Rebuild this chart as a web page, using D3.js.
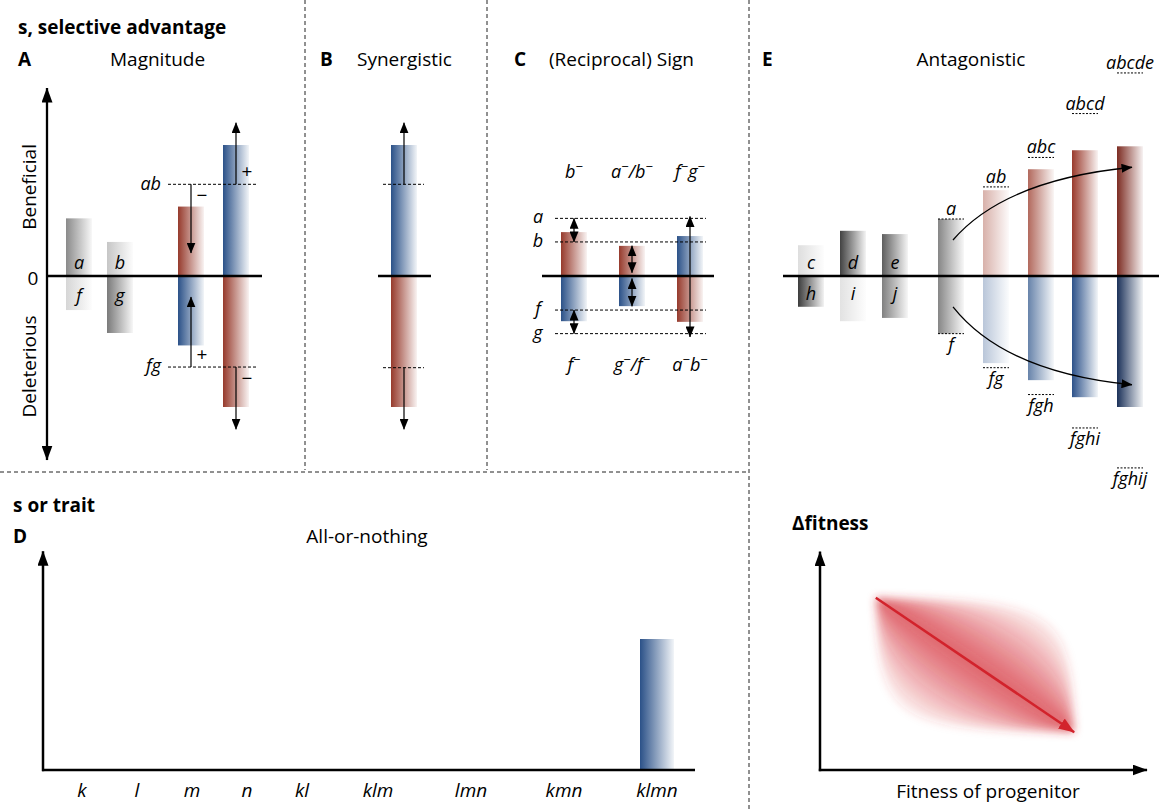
<!DOCTYPE html>
<html>
<head>
<meta charset="utf-8">
<script src="https://cdn.jsdelivr.net/npm/d3@7"></script>
<style>
  body { margin: 0; background: #fff; }
  svg { display: block; font-family: 'Open Sans', sans-serif; }
  .lab { font-style: italic; font-size: 18px; }
  .cat { font-style: italic; font-size: 19px; }
  .title { font-size: 19px; }
  .head { font-size: 19px; font-weight: 700; }
</style>
</head>
<body>
<svg id="chart" width="1159" height="811"></svg>
<script>
// ---------- data (s in arbitrary units, 0 = neutral) ----------
// A: magnitude epistasis
const magSingles = [
  { up: 'a', sUp: 4.4, down: 'f', sDown: -2.6 },
  { up: 'b', sUp: 2.6, down: 'g', sDown: -4.35 },
];
const magExpected = { up: 7.0, down: -6.95, upLabel: 'ab', downLabel: 'fg' };
const magDoubles = [
  { key: 'antag', sUp: 5.3, sDown: -5.3, tipUp: 1.75, tipDown: -1.6 },
  { key: 'syn', sUp: 10, sDown: -10, tipUp: 11.7, tipDown: -11.7 },
];

// B: synergistic
const synBar = { sUp: 10, sDown: -10, expUp: 7, expDown: -7, tipUp: 11.7, tipDown: -11.7 };

// C: (reciprocal) sign epistasis
const signLevels = [
  { label: 'a', s: 4.4 }, { label: 'b', s: 2.6 },
  { label: 'f', s: -2.6 }, { label: 'g', s: -4.4 },
];
const signBars = [
  { top: 'b⁻', bottom: 'f⁻', sUp: 3.35, sDown: -3.45, upKind: 'worse', downKind: 'better' },
  { top: 'a⁻/b⁻', bottom: 'g⁻/f⁻', sUp: 2.3, sDown: -2.3, upKind: 'worse', downKind: 'better' },
  { top: 'f⁻g⁻', bottom: 'a⁻b⁻', sUp: 3.05, sDown: -3.5, upKind: 'better', downKind: 'worse' },
];
const signArrows = [
  { bar: 0, from: 4.4, to: 2.6 }, { bar: 0, from: -2.6, to: -4.4 },
  { bar: 1, from: 2.3, to: 0.25 }, { bar: 1, from: -0.2, to: -2.3 },
  { bar: 2, from: 4.55, to: -4.65 },
];

// E: antagonistic
const antagSingles = [
  { up: 'c', sUp: 2.35, down: 'h', sDown: -2.35 },
  { up: 'd', sUp: 3.45, down: 'i', sDown: -3.45 },
  { up: 'e', sUp: 3.2, down: 'j', sDown: -3.2 },
];
const antagSeries = [
  { up: 'a', sUp: 4.35, expUp: 4.35, down: 'f', sDown: -4.4, expDown: -4.4 },
  { up: 'ab', sUp: 6.55, expUp: 6.8, down: 'fg', sDown: -6.65, expDown: -7.0 },
  { up: 'abc', sUp: 8.15, expUp: 9.05, down: 'fgh', sDown: -7.95, expDown: -9.05 },
  { up: 'abcd', sUp: 9.6, expUp: 12.4, down: 'fghi', sDown: -9.25, expDown: -11.6 },
  { up: 'abcde', sUp: 9.9, expUp: 15.5, down: 'fghij', sDown: -10, expDown: -14.65 },
];
const antagTrends = [
  { from: 'a', to: 'abcde', sFrom: 2.75, sBend: 7.35, sTo: 8.3 },
  { from: 'a', to: 'abcde', sFrom: -2.35, sBend: -7.35, sTo: -8.3 },
];

// D: all-or-nothing
const traitCats = ['k', 'l', 'm', 'n', 'kl', 'klm', 'lmn', 'kmn', 'klmn'];
const traitValues = [0, 0, 0, 0, 0, 0, 0, 0, 1];

// Δfitness vs fitness of progenitor
const progenitorFitness = [0.18, 0.82];
const deltaFitness = [0.82, 0.18];

// ---------- styles ----------
const RED = '#963a2c', BLUE = '#2b5188';
const greyA = { a: '#8a8a8a', f: '#d6d6d6', b: '#c6c6c6', g: '#7a7a7a' };
const greyE = { c: '#dedede', h: '#3c3c3c', d: '#424242', i: '#e2e2e2', e: '#5e5e5e', j: '#808080', a: '#868686', f: '#868686' };
const redE = { a: '#868686', ab: '#d8b1aa', abc: '#b2695d', abcd: '#9a3a2c', abcde: '#7c2c22' };
const blueE = { f: '#868686', fg: '#b9c6d9', fgh: '#6783aa', fghi: '#2d528a', fghij: '#1b3159' };
const kindColor = { better: BLUE, worse: RED };
const BW = 26;

// ---------- setup ----------
const svg = d3.select('#chart');
const defs = svg.append('defs');

const gradIds = new Map();
function grad(color) {
  if (!gradIds.has(color)) {
    const id = 'grad' + gradIds.size;
    gradIds.set(color, id);
    const lg = defs.append('linearGradient').attr('id', id);
    lg.append('stop').attr('offset', '0%').attr('stop-color', color);
    lg.append('stop').attr('offset', '100%').attr('stop-color', d3.interpolateRgb(color, '#fff')(0.94));
  }
  return `url(#${gradIds.get(color)})`;
}

function marker(id, len, half, color) {
  defs.append('marker')
    .attr('id', id)
    .attr('viewBox', `0 ${-half} ${len} ${2 * half}`)
    .attr('refX', len - 0.5).attr('refY', 0)
    .attr('markerWidth', len).attr('markerHeight', 2 * half)
    .attr('markerUnits', 'userSpaceOnUse')
    .attr('orient', 'auto-start-reverse')
    .append('path')
    .attr('d', `M0,${-half}L${len},0L0,${half}Z`)
    .attr('fill', color);
}
marker('axisHead', 15, 5.5, '#000');
marker('head', 11, 4.5, '#000');
marker('redHead', 16, 6, '#d2232c');

const soft = defs.append('filter').attr('id', 'soft')
  .attr('x', '-30%').attr('y', '-30%').attr('width', '160%').attr('height', '160%');
soft.append('feGaussianBlur').attr('stdDeviation', 4);

const yS = d3.scaleLinear().domain([-10, 10]).range([407, 145]);

function bar(g, xc, s0, s1, color, w = BW) {
  g.append('rect')
    .attr('x', xc - w / 2)
    .attr('y', Math.min(yS(s0), yS(s1)))
    .attr('width', w)
    .attr('height', Math.abs(yS(s0) - yS(s1)))
    .attr('fill', grad(color));
}
function hline(g, x1, x2, y, width, dash) {
  g.append('line').attr('x1', x1).attr('x2', x2).attr('y1', y).attr('y2', y)
    .attr('stroke', '#000').attr('stroke-width', width)
    .attr('stroke-dasharray', dash || null);
}
function arrow(g, x1, y1, x2, y2, head, width, both) {
  g.append('line').attr('x1', x1).attr('y1', y1).attr('x2', x2).attr('y2', y2)
    .attr('stroke', '#000').attr('stroke-width', width)
    .attr('marker-end', `url(#${head})`)
    .attr('marker-start', both ? `url(#${head})` : null);
}
function text(g, x, y, str, cls, anchor = 'middle') {
  return g.append('text').attr('x', x).attr('y', y).attr('class', cls)
    .attr('text-anchor', anchor).text(str);
}
// labels like "a⁻/b⁻": the minus is drawn as a raised small glyph
function supText(g, x, y, str) {
  const t = g.append('text').attr('x', x).attr('y', y).attr('class', 'lab').attr('text-anchor', 'middle');
  let raised = false;
  str.split(/(⁻)/).filter(Boolean).forEach(part => {
    if (part === '⁻') {
      t.append('tspan').attr('dy', -7).attr('font-size', 13).attr('font-style', 'normal').text('−');
      raised = true;
    } else {
      t.append('tspan').attr('dy', raised ? 7 : 0).text(part);
      raised = false;
    }
  });
}

// ---------- dividers ----------
const div = svg.append('g').attr('stroke', '#222').attr('stroke-width', 1).attr('stroke-dasharray', '4,3');
[[305, 0, 305, 470], [487, 0, 487, 470], [749, 0, 749, 811], [0, 472, 749, 472]].forEach(d =>
  div.append('line').attr('x1', d[0]).attr('y1', d[1]).attr('x2', d[2]).attr('y2', d[3]));

// ---------- panel A ----------
const gA = svg.append('g');
text(gA, 18, 34, 's, selective advantage', 'head', 'start');
text(gA, 18, 66, 'A', 'head', 'start');
text(gA, 110, 66, 'Magnitude', 'title', 'start');
arrow(gA, 47, yS(-14.05), 47, yS(14.35), 'axisHead', 2.3, true);
text(gA, 33, 285, '0', 'title');
gA.append('text').attr('class', 'title').attr('text-anchor', 'middle')
  .attr('transform', `translate(36,${yS(6.8)}) rotate(-90)`).text('Beneficial');
gA.append('text').attr('class', 'title').attr('text-anchor', 'middle')
  .attr('transform', `translate(36,${yS(-6.9)}) rotate(-90)`).text('Deleterious');

const xA = d3.scaleOrdinal().domain(['a', 'b', 'antag', 'syn']).range([79, 120, 191, 236]);
magSingles.forEach(d => {
  bar(gA, xA(d.up), 0, d.sUp, greyA[d.up]);
  bar(gA, xA(d.up), 0, d.sDown, greyA[d.down]);
});
magDoubles.forEach(d => {
  const x = xA(d.key);
  bar(gA, x, 0, d.sUp, d.sUp > magExpected.up ? BLUE : RED);
  bar(gA, x, 0, d.sDown, d.sDown > magExpected.down ? BLUE : RED);
});
hline(gA, 168, 257, yS(magExpected.up), 1, '3,2');
hline(gA, 168, 257, yS(magExpected.down), 1, '3,2');
hline(gA, 47, 262, yS(0), 2.5);
magSingles.forEach(d => {
  text(gA, xA(d.up), yS(0) - 7, d.up, 'lab');
  text(gA, xA(d.up), yS(0) + 26, d.down, 'lab');
});
magDoubles.forEach(d => {
  const x = xA(d.key);
  [[magExpected.up, d.tipUp], [magExpected.down, d.tipDown]].forEach(([from, to]) => {
    arrow(gA, x, yS(from), x, yS(to), 'head', 1.2);
    const dir = to > from ? -1 : 1;
    text(gA, x + 11, yS(from) + dir * 12 + 6, to > from ? '+' : '−', 'title');
  });
});
text(gA, 161, yS(magExpected.up) + 6, magExpected.upLabel, 'lab', 'end');
text(gA, 161, yS(magExpected.down) + 5, magExpected.downLabel, 'lab', 'end');

// ---------- panel B ----------
const gB = svg.append('g');
text(gB, 320, 66, 'B', 'head', 'start');
text(gB, 357, 66, 'Synergistic', 'title', 'start');
const xB = 404;
bar(gB, xB, 0, synBar.sUp, synBar.sUp > synBar.expUp ? BLUE : RED);
bar(gB, xB, 0, synBar.sDown, synBar.sDown > synBar.expDown ? BLUE : RED);
hline(gB, 378, 431, yS(0), 2.5);
hline(gB, 383, 424, yS(synBar.expUp), 1, '3,2');
hline(gB, 383, 424, yS(synBar.expDown), 1, '3,2');
arrow(gB, xB, yS(synBar.expUp), xB, yS(synBar.tipUp), 'head', 1.2);
arrow(gB, xB, yS(synBar.expDown), xB, yS(synBar.tipDown), 'head', 1.2);

// ---------- panel C ----------
const gC = svg.append('g');
text(gC, 514, 66, 'C', 'head', 'start');
text(gC, 549, 66, '(Reciprocal) Sign', 'title', 'start');
const xC = d3.scalePoint().domain(d3.range(signBars.length)).range([574, 690]);
signBars.forEach((d, i) => {
  bar(gC, xC(i), 0, d.sUp, kindColor[d.upKind]);
  bar(gC, xC(i), 0, d.sDown, kindColor[d.downKind]);
  supText(gC, xC(i), 178, d.top);
  supText(gC, xC(i), 371, d.bottom);
});
signLevels.forEach(d => {
  hline(gC, 555, 706, yS(d.s), 1, '3,2');
  text(gC, 538, yS(d.s) + 5, d.label, 'lab');
});
hline(gC, 542, 714, yS(0), 2.5);
signArrows.forEach(d => arrow(gC, xC(d.bar), yS(d.from), xC(d.bar), yS(d.to), 'head', 1.2, true));

// ---------- panel E ----------
const gE = svg.append('g');
text(gE, 762, 66, 'E', 'head', 'start');
text(gE, 971, 66, 'Antagonistic', 'title');
const xE = d3.scaleOrdinal()
  .domain([...antagSingles.map(d => d.up), ...antagSeries.map(d => d.up)])
  .range([811, 853, 895, 951, 996, 1041, 1085, 1130]);
antagSingles.forEach(d => {
  bar(gE, xE(d.up), 0, d.sUp, greyE[d.up]);
  bar(gE, xE(d.up), 0, d.sDown, greyE[d.down]);
});
antagSeries.forEach(d => {
  const x = xE(d.up);
  bar(gE, x, 0, d.sUp, redE[d.up]);
  bar(gE, x, 0, d.sDown, blueE[d.down]);
  hline(gE, x - 13, x + 13, yS(d.expUp), 1, '2,1.5');
  hline(gE, x - 13, x + 13, yS(d.expDown), 1, '2,1.5');
  text(gE, x, yS(d.expUp) - 4, d.up, 'lab');
  text(gE, x, yS(d.expDown) + 17, d.down, 'lab');
});
hline(gE, 783, 1159, yS(0), 2.5);
antagSingles.forEach(d => {
  text(gE, xE(d.up), yS(0) - 7, d.up, 'lab');
  text(gE, xE(d.up), yS(0) + 24, d.down, 'lab');
});
antagTrends.forEach(d => {
  const x0 = xE(d.from) + 2, x1 = xE(d.to) + 2;
  const p = d3.path();
  p.moveTo(x0, yS(d.sFrom));
  p.quadraticCurveTo(x0 + 52, yS(d.sBend), x1, yS(d.sTo));
  gE.append('path').attr('d', p.toString()).attr('fill', 'none')
    .attr('stroke', '#000').attr('stroke-width', 1.3).attr('marker-end', 'url(#head)');
});

// ---------- panel D ----------
const gD = svg.append('g');
text(gD, 13, 512, 's or trait', 'head', 'start');
text(gD, 13, 543, 'D', 'head', 'start');
text(gD, 367, 543, 'All-or-nothing', 'title');
const xD = d3.scaleLinear().domain([0, 4, 5, 8]).range([82, 302, 378, 657]);
const yD = d3.scaleLinear().domain([0, 1]).range([770, 639]);
gD.selectAll('rect.trait').data(traitValues).join('rect')
  .attr('class', 'trait')
  .attr('x', (d, i) => xD(i) - 17)
  .attr('y', d => yD(d))
  .attr('width', 34)
  .attr('height', d => yD(0) - yD(d))
  .attr('fill', grad(BLUE));
arrow(gD, 43, yD(0) + 1.2, 43, yD(1.67), 'axisHead', 2.5);
hline(gD, 42, 695, yD(0), 2.5);
gD.selectAll('text.cat').data(traitCats).join('text')
  .attr('class', 'cat')
  .attr('x', (d, i) => xD(i))
  .attr('y', 797)
  .attr('text-anchor', 'middle')
  .text(d => d);

// ---------- Δfitness ----------
const gF = svg.append('g');
text(gF, 792, 530, 'Δfitness', 'head', 'start');
const fx = d3.scaleLinear().domain([0, 1]).range([820, 1130]);
const fy = d3.scaleLinear().domain([0, 1]).range([770, 560]);
const [x0, y0] = [fx(progenitorFitness[0]), fy(deltaFitness[0])];
const [x1, y1] = [fx(progenitorFitness[1]), fy(deltaFitness[1])];
function lens(k) {
  const dx = x1 - x0, dy = y1 - y0;
  const p = d3.path();
  p.moveTo(x0, y0);
  p.bezierCurveTo(x0 + k * dx, y0, x1, y1 - k * dy, x1, y1);
  p.bezierCurveTo(x1 - k * dx, y1, x0, y0 + k * dy, x0, y0);
  p.closePath();
  return p.toString();
}
const spread = gF.append('g').attr('filter', 'url(#soft)');
[0.9, 0.78, 0.66, 0.55, 0.45, 0.36, 0.28, 0.2, 0.12, 0.06].forEach(k =>
  spread.append('path').attr('d', lens(k)).attr('fill', '#d8333c').attr('fill-opacity', 0.12));
gF.append('line').attr('x1', x0).attr('y1', y0).attr('x2', x1).attr('y2', y1)
  .attr('stroke', '#d2232c').attr('stroke-width', 2.5).attr('marker-end', 'url(#redHead)');
arrow(gF, fx(0), fy(0) + 1.2, fx(0), fy(1.04), 'axisHead', 2.5);
arrow(gF, fx(0) - 1.2, fy(0), fx(1.055), fy(0), 'axisHead', 2.5);
text(gF, 988, 798, 'Fitness of progenitor', 'title');
</script>
</body>
</html>
